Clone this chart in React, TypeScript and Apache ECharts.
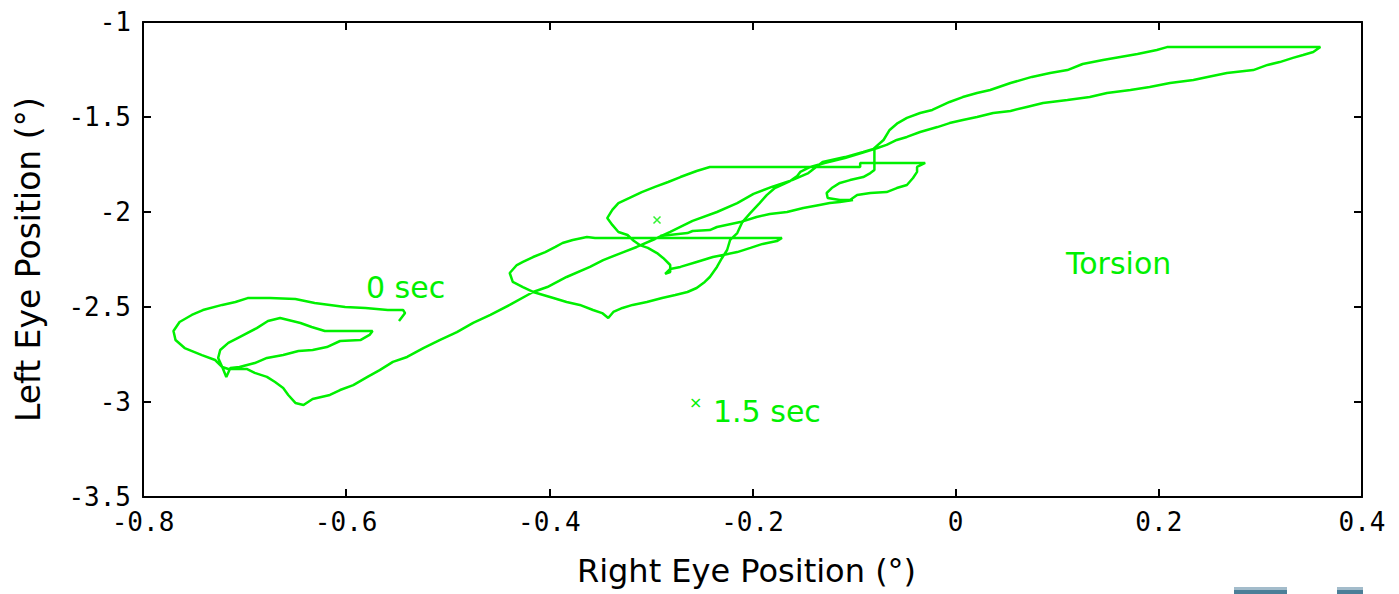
import React, { useEffect, useRef } from "react";
import * as echarts from "echarts";

const GREEN = "#00f000";

const xTicks = [-0.8, -0.6, -0.4, -0.2, 0, 0.2, 0.4];
const yTicks = [-3.5, -3, -2.5, -2, -1.5, -1];

// Trace pieces (Right eye °, Left eye °), in time order
const leftLoops: number[][] = [
  [-0.548, -2.574], [-0.542, -2.532], [-0.544, -2.516], [-0.559, -2.516], [-0.581, -2.505],
  [-0.601, -2.5], [-0.631, -2.479], [-0.65, -2.458], [-0.675, -2.453], [-0.697, -2.453],
  [-0.709, -2.474], [-0.722, -2.489], [-0.741, -2.516], [-0.752, -2.542], [-0.764, -2.579],
  [-0.77, -2.626], [-0.768, -2.674], [-0.759, -2.716], [-0.742, -2.753], [-0.729, -2.779],
  [-0.722, -2.816], [-0.718, -2.868],
  [-0.714, -2.821], [-0.705, -2.816], [-0.69, -2.795], [-0.678, -2.768], [-0.662, -2.753],
  [-0.647, -2.732], [-0.633, -2.726], [-0.619, -2.711], [-0.606, -2.679], [-0.586, -2.674],
  [-0.577, -2.647], [-0.574, -2.626],
  [-0.621, -2.626], [-0.634, -2.605], [-0.645, -2.584], [-0.657, -2.568], [-0.665, -2.558],
  [-0.677, -2.574], [-0.688, -2.611], [-0.705, -2.658], [-0.716, -2.689], [-0.724, -2.726],
  [-0.726, -2.768], [-0.722, -2.816], [-0.716, -2.826],
];

const diagonal: number[][] = [
  [-0.698, -2.826], [-0.69, -2.847], [-0.678, -2.868], [-0.67, -2.895], [-0.662, -2.926],
  [-0.657, -2.963], [-0.65, -3.005], [-0.642, -3.016], [-0.633, -2.984], [-0.616, -2.963],
  [-0.606, -2.937], [-0.593, -2.911], [-0.579, -2.868], [-0.567, -2.832], [-0.554, -2.789],
  [-0.54, -2.763], [-0.524, -2.716], [-0.508, -2.674], [-0.491, -2.632], [-0.475, -2.584],
  [-0.458, -2.542], [-0.439, -2.489], [-0.416, -2.421], [-0.402, -2.395], [-0.383, -2.342],
  [-0.36, -2.289], [-0.347, -2.253], [-0.327, -2.211], [-0.314, -2.184], [-0.296, -2.142],
  [-0.281, -2.105], [-0.259, -2.047], [-0.235, -2.0], [-0.215, -1.953], [-0.199, -1.905],
  [-0.181, -1.868], [-0.161, -1.832], [-0.145, -1.795], [-0.131, -1.737], [-0.109, -1.711],
  [-0.091, -1.684], [-0.081, -1.668],
];

const bigLoop: number[][] = [
  [-0.071, -1.621], [-0.065, -1.568], [-0.057, -1.532], [-0.048, -1.505], [-0.035, -1.479],
  [-0.023, -1.463], [-0.006, -1.421], [0.007, -1.395], [0.021, -1.374], [0.034, -1.358],
  [0.054, -1.321], [0.075, -1.289], [0.093, -1.268], [0.11, -1.253], [0.125, -1.221],
  [0.145, -1.2], [0.162, -1.184], [0.179, -1.168], [0.198, -1.147], [0.208, -1.132],
  [0.359, -1.132],
  [0.352, -1.158], [0.342, -1.174], [0.332, -1.189], [0.319, -1.211], [0.307, -1.226],
  [0.293, -1.253], [0.267, -1.268], [0.248, -1.289], [0.234, -1.305], [0.211, -1.321],
  [0.191, -1.342], [0.172, -1.358], [0.149, -1.374], [0.132, -1.395], [0.11, -1.411],
  [0.086, -1.426], [0.07, -1.447], [0.054, -1.468], [0.037, -1.479], [0.021, -1.5],
  [0.007, -1.516], [-0.006, -1.532], [-0.018, -1.553], [-0.035, -1.579], [-0.048, -1.605],
  [-0.058, -1.621], [-0.068, -1.647], [-0.077, -1.663],
];

const descending: number[][] = [
  [-0.092, -1.689], [-0.109, -1.716], [-0.129, -1.742], [-0.143, -1.763], [-0.153, -1.789],
  [-0.156, -1.811], [-0.163, -1.837], [-0.178, -1.874], [-0.186, -1.911], [-0.193, -1.953],
  [-0.202, -2.005], [-0.21, -2.053], [-0.215, -2.111], [-0.222, -2.147], [-0.225, -2.2],
  [-0.23, -2.242], [-0.235, -2.289], [-0.242, -2.342], [-0.247, -2.368], [-0.255, -2.4],
  [-0.264, -2.421], [-0.276, -2.437], [-0.289, -2.453], [-0.304, -2.474], [-0.318, -2.489],
  [-0.328, -2.505], [-0.337, -2.526], [-0.342, -2.558],
];

const middleLoop: number[][] = [
  [-0.348, -2.532], [-0.357, -2.516], [-0.37, -2.489], [-0.383, -2.474], [-0.396, -2.453],
  [-0.406, -2.437], [-0.416, -2.421], [-0.426, -2.395], [-0.436, -2.368], [-0.439, -2.321],
  [-0.432, -2.279], [-0.426, -2.263], [-0.416, -2.237], [-0.404, -2.211], [-0.394, -2.184],
  [-0.387, -2.163], [-0.377, -2.147], [-0.363, -2.132], [-0.355, -2.137], [-0.171, -2.137],
];

const hookArc: number[][] = [
  [-0.176, -2.153], [-0.19, -2.168], [-0.202, -2.189], [-0.215, -2.211], [-0.229, -2.226],
  [-0.239, -2.237], [-0.255, -2.263], [-0.271, -2.289], [-0.281, -2.3], [-0.286, -2.326],
  [-0.281, -2.316], [-0.281, -2.279], [-0.288, -2.242], [-0.294, -2.216], [-0.303, -2.189],
  [-0.311, -2.174], [-0.318, -2.147], [-0.323, -2.121], [-0.332, -2.105], [-0.338, -2.068],
  [-0.343, -2.032], [-0.338, -1.989], [-0.332, -1.953], [-0.321, -1.926], [-0.309, -1.895],
  [-0.296, -1.868], [-0.283, -1.842], [-0.271, -1.816], [-0.255, -1.784], [-0.242, -1.763],
  [-0.094, -1.763], [-0.094, -1.742], [-0.03, -1.742],
];

const smallLoop: number[][] = [
  [-0.038, -1.763], [-0.038, -1.789], [-0.042, -1.821], [-0.048, -1.858], [-0.058, -1.874],
  [-0.068, -1.895], [-0.084, -1.9], [-0.097, -1.911], [-0.104, -1.937], [-0.114, -1.937],
  [-0.126, -1.926], [-0.127, -1.9], [-0.122, -1.874], [-0.114, -1.847], [-0.104, -1.832],
  [-0.091, -1.816], [-0.084, -1.795], [-0.08, -1.779], [-0.08, -1.674],
];

const crossLine: number[][] = [
  [-0.101, -1.937], [-0.114, -1.947], [-0.124, -1.953], [-0.134, -1.963], [-0.15, -1.979],
  [-0.166, -2.0], [-0.183, -2.011], [-0.196, -2.026], [-0.212, -2.053], [-0.235, -2.079],
  [-0.242, -2.095], [-0.259, -2.1], [-0.264, -2.111], [-0.291, -2.126],
];

const marker15: number[][] = [[-0.294, -2.042]];

const fmt = (v: number) => String(Math.round(v * 10) / 10);

export default function App() {
  const ref = useRef<HTMLDivElement>(null);
  useEffect(() => {
    if (!ref.current) return;
    const chart = echarts.init(ref.current, undefined, { renderer: "svg" });
    const mainTrace = [
      ...leftLoops, ...diagonal, ...bigLoop, ...descending, ...middleLoop, ...hookArc, ...smallLoop,
    ];
    const axisLine = { show: true, onZero: false, lineStyle: { color: "#000", width: 2 } };
    const axisTick = { show: true, inside: true, length: 8, lineStyle: { color: "#000", width: 2 } };
    const tickFont = { fontFamily: "DejaVu Sans Mono", fontSize: 26, color: "#000" };
    chart.setOption({
      animation: false,
      backgroundColor: "#fff",
      grid: { left: 143, right: 37, top: 22, bottom: 97, containLabel: false },
      xAxis: [
        {
          type: "value", min: xTicks[0], max: xTicks[xTicks.length - 1], interval: 0.2,
          position: "bottom", axisLine, axisTick, splitLine: { show: false },
          axisLabel: { ...tickFont, margin: 12, formatter: fmt },
          name: "Right Eye Position (°)", nameLocation: "middle", nameGap: 58,
          nameTextStyle: { fontFamily: "DejaVu Sans", fontSize: 32, color: "#000", padding: [0, 12, 0, 0] },
        },
        {
          type: "value", min: xTicks[0], max: xTicks[xTicks.length - 1], interval: 0.2,
          position: "top", axisLine, axisTick, splitLine: { show: false },
          axisLabel: { show: false },
        },
      ],
      yAxis: [
        {
          type: "value", min: yTicks[0], max: yTicks[yTicks.length - 1], interval: 0.5,
          position: "left", axisLine, axisTick, splitLine: { show: false },
          axisLabel: { ...tickFont, margin: 12, formatter: fmt },
          name: "Left Eye Position (°)", nameLocation: "middle", nameGap: 98,
          nameTextStyle: { fontFamily: "DejaVu Sans", fontSize: 33, color: "#000" },
        },
        {
          type: "value", min: yTicks[0], max: yTicks[yTicks.length - 1], interval: 0.5,
          position: "right", axisLine, axisTick, splitLine: { show: false },
          axisLabel: { show: false },
        },
      ],
      series: [
        {
          type: "line", xAxisIndex: 0, yAxisIndex: 0, data: mainTrace, showSymbol: false,
          symbol: "none", lineStyle: { color: GREEN, width: 2.5 }, silent: true,
        },
        {
          type: "line", xAxisIndex: 0, yAxisIndex: 0, data: crossLine, showSymbol: false,
          symbol: "none", lineStyle: { color: GREEN, width: 2.5 }, silent: true,
        },
        {
          type: "scatter", xAxisIndex: 0, yAxisIndex: 0, data: marker15,
          symbol: "path://M0,0L10,10M10,0L0,10", symbolSize: 7,
          itemStyle: { color: "none", borderColor: GREEN, borderWidth: 1.5 }, silent: true,
        },
      ],
      graphic: [
        {
          type: "text", x: 366, y: 287,
          style: { text: "0 sec", fill: GREEN, font: "30px 'DejaVu Sans'", textVerticalAlign: "middle" },
        },
        {
          type: "text", x: 689, y: 402,
          style: { text: "×", fill: GREEN, font: "16px 'DejaVu Sans'", textVerticalAlign: "middle" },
        },
        {
          type: "text", x: 713, y: 411,
          style: { text: "1.5 sec", fill: GREEN, font: "30px 'DejaVu Sans'", textVerticalAlign: "middle" },
        },
        {
          type: "text", x: 1066, y: 263,
          style: { text: "Torsion", fill: GREEN, font: "30px 'DejaVu Sans'", textVerticalAlign: "middle" },
        },
        { type: "rect", shape: { x: 1234, y: 587, width: 53, height: 3 }, style: { fill: "#a3bccb" } },
        { type: "rect", shape: { x: 1234, y: 590, width: 53, height: 4 }, style: { fill: "#4b7f98" } },
        { type: "rect", shape: { x: 1337, y: 587, width: 26, height: 3 }, style: { fill: "#a3bccb" } },
        { type: "rect", shape: { x: 1337, y: 590, width: 26, height: 4 }, style: { fill: "#4b7f98" } },
      ],
    });
    return () => chart.dispose();
  }, []);
  return (
    <div
      ref={ref}
      style={{ position: "fixed", left: 0, top: 0, width: 1399, height: 594, background: "#fff" }}
    />
  );
}
